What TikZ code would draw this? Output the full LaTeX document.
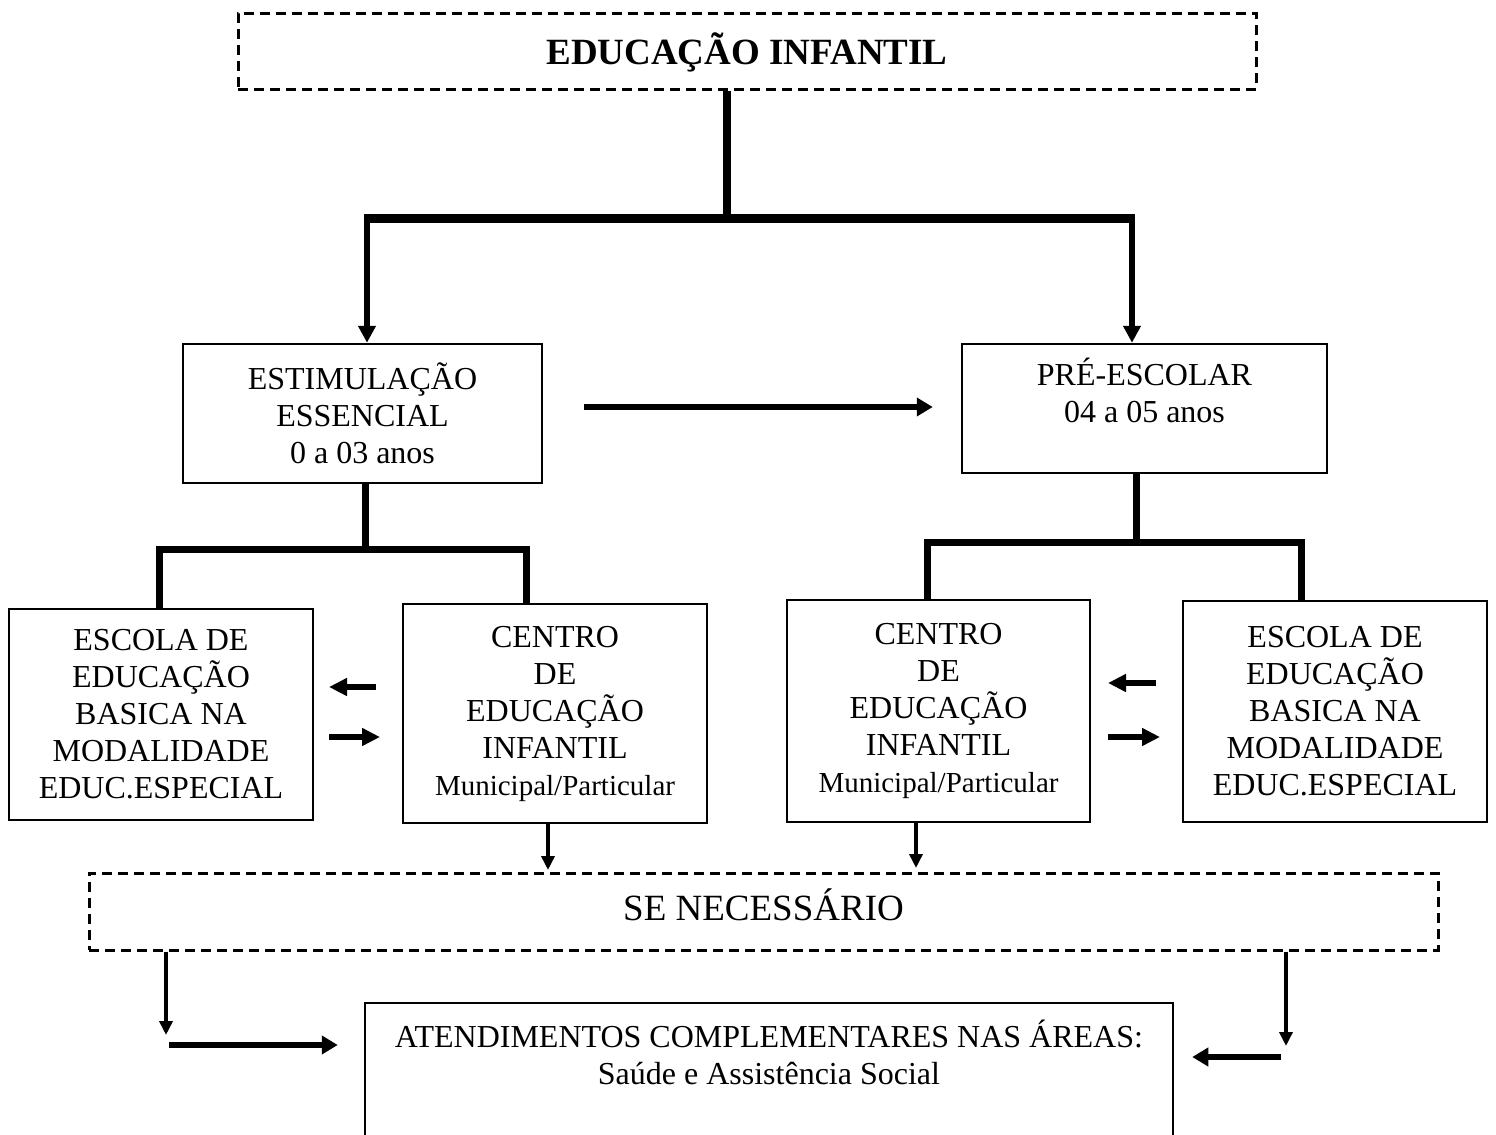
\documentclass[tikz,border=0pt]{standalone}
\usepackage{fontspec}
\setmainfont{Liberation Serif}
\usetikzlibrary{arrows.meta,calc}
\begin{document}
\begin{tikzpicture}[x=0.5pt,y=-0.5pt,
  box/.style={draw,line width=1.25pt,inner sep=0pt,align=center,font=\fontsize{16}{18.5}\selectfont},
  dbox/.style={draw,line width=1.5pt,dash pattern=on 5pt off 3pt,inner sep=0pt,align=center},
  bar/.style={line width=3.5pt,line join=miter},
  topbar/.style={line width=4pt},
  darr/.style={line width=3pt,-{Triangle[length=8.5pt,width=8.5pt]}},
  harr/.style={line width=3.4pt,-{Triangle[length=8pt,width=9pt]}},
  sarr/.style={line width=3pt,-{Triangle[length=9pt,width=8.5pt]}},
  tarr/.style={line width=2pt,-{Triangle[length=7pt,width=6.5pt]}}
]
\useasboundingbox (0,0) rectangle (1496,1135);
\clip (0,0) rectangle (1496,1135);

% boxes
\node[dbox,minimum width=509pt,minimum height=38pt,font=\fontsize{18.5}{22}\selectfont\bfseries,text depth=2pt] (title) at (747,51) {EDUCAÇÃO INFANTIL};
\node[box,minimum width=179.5pt,minimum height=69.5pt] (est) at (362.5,413.5) {ESTIMULAÇÃO\\ESSENCIAL\\0 a 03 anos};
\node[box,minimum width=182.5pt,minimum height=64.5pt] (pre) at (1144.5,408.5) {PRÉ-ESCOLAR\\04 a 05 anos\\\mbox{}};
\node[box,minimum width=152pt,minimum height=105.5pt] (escL) at (161,714.5) {ESCOLA DE\\EDUCAÇÃO\\BASICA NA\\MODALIDADE\\EDUC.ESPECIAL};
\node[box,minimum width=152pt,minimum height=109.5pt] (cenL) at (555,713.5) {CENTRO\\DE\\EDUCAÇÃO\\INFANTIL\\{\fontsize{14.5}{18}\selectfont Municipal/Particular}};
\node[box,minimum width=151.5pt,minimum height=111pt] (cenR) at (938.5,711) {CENTRO\\DE\\EDUCAÇÃO\\INFANTIL\\{\fontsize{14.5}{18}\selectfont Municipal/Particular}};
\node[box,minimum width=152pt,minimum height=110.5pt] (escR) at (1335,711.5) {ESCOLA DE\\EDUCAÇÃO\\BASICA NA\\MODALIDADE\\EDUC.ESPECIAL};
\node[dbox,minimum width=674.5pt,minimum height=38.5pt,font=\fontsize{18.5}{22}\selectfont,text depth=7pt] (se) at (763.5,911.5) {SE NECESSÁRIO};
\node[box,minimum width=404pt,minimum height=80pt] (atend) at (769,1083) {};
\node[align=center,inner sep=0pt,font=\fontsize{16}{18.5}\selectfont] (atendtxt) at (769,1052) {ATENDIMENTOS COMPLEMENTARES NAS ÁREAS:\\Saúde e Assistência Social};

% top tree
\coordinate (j1) at (727,218);
\coordinate (j1L) at (367,218);
\coordinate (j1R) at (1132,218);
\draw[topbar] (title.south -| j1) -- (j1);
\draw[line width=4.5pt] ([xshift=-1.5pt]j1L) -- ([xshift=1.5pt]j1R);
\draw[darr] (j1L) -- (j1L |- est.north);
\draw[darr] (j1R) -- (j1R |- pre.north);

\draw[harr] ($(est.east)+(41,-6.5)$) -- ($(pre.west)+(-28,-1.5)$);

% left subtree
\coordinate (j2) at (365,549);
\coordinate (j2L) at (159,549);
\coordinate (j2R) at (526,549);
\draw[bar] (est.south -| j2) -- (j2);
\draw[bar] (escL.north -| j2L) -- (j2L) -- (j2R) -- (cenL.north -| j2R);

% right subtree
\coordinate (j3) at (1136,542);
\coordinate (j3L) at (927,542);
\coordinate (j3R) at (1301,542);
\draw[bar] (pre.south -| j3) -- (j3);
\draw[bar] (cenR.north -| j3L) -- (j3L) -- (j3R) -- (escR.north -| j3R);

% small two-way arrows
\coordinate (p1a) at (376,687); \coordinate (p1b) at (329,687);
\coordinate (p2a) at (329,737); \coordinate (p2b) at (380,737);
\coordinate (p3a) at (1156,683); \coordinate (p3b) at (1108,683);
\coordinate (p4a) at (1108,737); \coordinate (p4b) at (1160,737);
\draw[sarr] (p1a) -- (p1b);
\draw[sarr] (p2a) -- (p2b);
\draw[sarr] (p3a) -- (p3b);
\draw[sarr] (p4a) -- (p4b);

% down to SE NECESSARIO
\coordinate (d1) at (548,870);
\coordinate (d2) at (916,868);
\draw[tarr] (cenL.south -| d1) -- (d1);
\draw[tarr] (cenR.south -| d2) -- (d2);

% bottom
\coordinate (e1) at (166,1035);
\coordinate (e2) at (1286,1046);
\draw[tarr] (se.south -| e1) -- (e1);
\draw[tarr] (se.south -| e2) -- (e2);
\coordinate (h1) at (169,1045);
\coordinate (h2) at (1281,1057);
\draw[harr] (h1) -- ($(atend.west |- h1)+(-26,0)$);
\draw[harr] (h2) -- ($(atend.east |- h2)+(18,0)$);
\end{tikzpicture}
\end{document}
